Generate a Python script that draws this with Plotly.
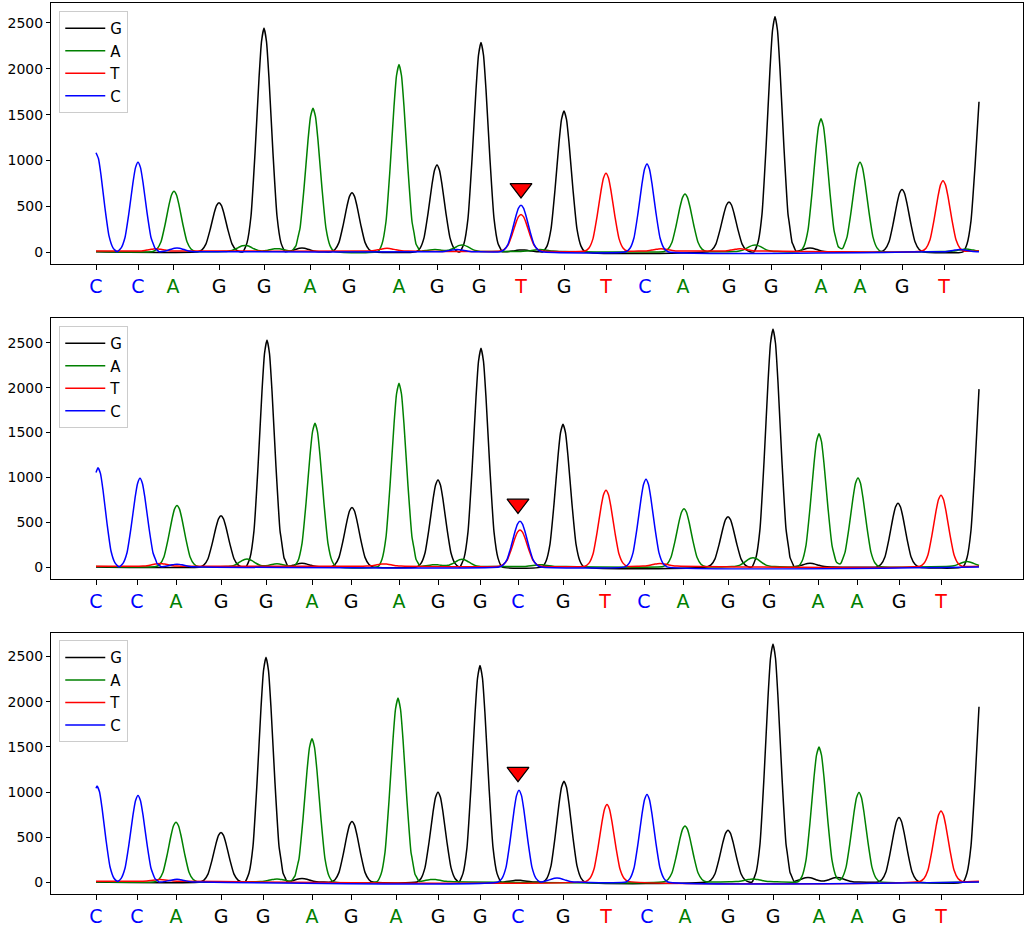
import numpy as np
import plotly.graph_objects as go
from plotly.subplots import make_subplots

# trace runs from scan 0 to scan 883 in every panel
last_scan = 883

# ---------- panel 1 ----------
g_pos_1 = [123, 168, 206, 256, 341, 385, 426, 468, 633, 679, 714, 806, 888]
g_hgt_1 = [536, 2440, 40, 643, 947, 2282, 20, 1537, 543, 2568, 40, 679, 2112]
a_pos_1 = [78, 149, 181, 217, 303, 339, 366, 444, 589, 659, 725, 764, 870]
a_hgt_1 = [655, 65, 30, 1563, 2039, 20, 70, 20, 625, 70, 1448, 972, 25]
t_pos_1 = [60, 291, 425, 510, 565, 644, 847]
t_hgt_1 = [25, 30, 400, 848, 25, 25, 768]
c_pos_1 = [0, 42, 81, 361, 425, 551, 864]
c_hgt_1 = [1080, 977, 40, 25, 508, 958, 25]
base_pos_1 = [0, 42, 77, 123, 168, 214, 253, 303, 341, 383, 425, 468, 510,
              549, 587, 633, 675, 725, 764, 806, 848]
calls_1 = list("CCAGGAGAGGTGTCAGGAAGT")

# ---------- panel 2 ----------
g_pos_2 = [125, 171, 206, 256, 342, 385, 467, 632, 677, 714, 802, 888]
g_hgt_2 = [570, 2527, 40, 662, 967, 2435, 1589, 559, 2649, 40, 710, 2554]
a_pos_2 = [81, 151, 181, 219, 303, 339, 366, 444, 588, 657, 723, 762, 871]
a_hgt_2 = [680, 84, 30, 1596, 2042, 20, 80, 20, 643, 99, 1479, 986, 55]
t_pos_2 = [64, 288, 424, 510, 564, 845]
t_hgt_2 = [30, 25, 404, 846, 30, 791]
c_pos_2 = [2, 44, 81, 424, 550]
c_hgt_2 = [1105, 986, 30, 508, 975]
base_pos_2 = [0, 41, 80, 125, 170, 216, 255, 303, 342, 384, 422, 467, 509,
              548, 587, 632, 673, 722, 761, 803, 845]
calls_2 = list("CCAGGAGAGGCGTCAGGAAGT")

# ---------- panel 3 ----------
g_pos_3 = [125, 170, 206, 256, 342, 384, 422, 468, 632, 677, 712, 741, 803, 888]
g_hgt_3 = [549, 2488, 40, 670, 995, 2397, 20, 1116, 574, 2634, 50, 50, 713, 2502]
a_pos_3 = [80, 181, 216, 302, 337, 589, 657, 723, 763]
a_hgt_3 = [659, 30, 1581, 2031, 25, 615, 30, 1489, 988]
t_pos_3 = [64, 511, 845]
t_hgt_3 = [20, 849, 779]
c_pos_3 = [1, 42, 81, 423, 461, 551]
c_hgt_3 = [1062, 958, 30, 1017, 45, 969]
base_pos_3 = [0, 41, 80, 125, 167, 216, 255, 300, 342, 384, 422, 467, 510,
              551, 589, 632, 677, 723, 761, 803, 845]
calls_3 = list("CCAGGAGAGGCGTCAGGAAGT")

# mutation marker (scan, signal) per panel
mark_x = [425, 422, 422]
mark_y = [695, 705, 1220]

# y ranges of the three panels
y_ranges = [[-129, 2718], [-132, 2774], [-128, 2763]]

# peak shape used to draw every called peak
profile_dx = [-21, -17, -13, -9, -5, -2.5, 0, 2.5, 5, 9, 13, 17, 21]
profile_fr = [0, 0.04, 0.16, 0.44, 0.775, 0.94, 1, 0.94, 0.775, 0.44, 0.16, 0.04, 0]

colors = {"G": "black", "A": "green", "T": "red", "C": "blue"}
baseline = {"G": 4, "A": 8, "T": 12, "C": 4}


def trace_curve(pos, hgt, base):
    xs = {0.0, float(last_scan)}
    for c in pos:
        for d in profile_dx:
            if 0 <= c + d <= last_scan:
                xs.add(float(c + d))
    xs = np.array(sorted(xs))
    ys = np.full(len(xs), float(base))
    for c, h in zip(pos, hgt):
        ys += h * np.interp(xs - c, profile_dx, profile_fr)
    return xs, ys


panels = [
    {"G": (g_pos_1, g_hgt_1), "A": (a_pos_1, a_hgt_1), "T": (t_pos_1, t_hgt_1), "C": (c_pos_1, c_hgt_1)},
    {"G": (g_pos_2, g_hgt_2), "A": (a_pos_2, a_hgt_2), "T": (t_pos_2, t_hgt_2), "C": (c_pos_2, c_hgt_2)},
    {"G": (g_pos_3, g_hgt_3), "A": (a_pos_3, a_hgt_3), "T": (t_pos_3, t_hgt_3), "C": (c_pos_3, c_hgt_3)},
]
ticks = [(base_pos_1, calls_1), (base_pos_2, calls_2), (base_pos_3, calls_3)]

fig = make_subplots(rows=3, cols=1)

legend_names = ["legend", "legend2", "legend3"]
for i, chans in enumerate(panels):
    row = i + 1
    for base in ["G", "A", "T", "C"]:
        xs, ys = trace_curve(chans[base][0], chans[base][1], baseline[base])
        fig.add_trace(go.Scatter(
            x=xs, y=ys, mode="lines", name=base,
            line=dict(color=colors[base], width=1.5, shape="spline", smoothing=0.5),
            legend=legend_names[i], hoverinfo="skip"), row=row, col=1)
    fig.add_trace(go.Scatter(
        x=[mark_x[i]], y=[mark_y[i]], mode="markers", showlegend=False,
        marker=dict(symbol="triangle-down", size=19, color="red",
                    line=dict(color="black", width=1.2))), row=row, col=1)

font = "DejaVu Sans"
domains = [[0.7071, 1.0], [0.3534, 0.6463], [0.0, 0.2933]]
legend_y = [0.991, 0.6374, 0.2848]

for i in range(3):
    row = i + 1
    pos, calls = ticks[i]
    labels = ['<span style="color:%s">%s</span>' % (colors[b], b) for b in calls]
    fig.update_xaxes(range=[-45, 927], tickmode="array", tickvals=pos, ticktext=labels,
                     tickfont=dict(family=font, size=19, color="black"),
                     ticks="outside", ticklen=5, tickcolor="black",
                     showline=True, mirror=True, linecolor="black", linewidth=1,
                     showgrid=False, zeroline=False, domain=[0, 1], row=row, col=1)
    fig.update_yaxes(range=y_ranges[i], tickvals=[0, 500, 1000, 1500, 2000, 2500],
                     tickfont=dict(family=font, size=14, color="black"),
                     ticks="outside", ticklen=4, tickcolor="black",
                     showline=True, mirror=True, linecolor="black", linewidth=1,
                     showgrid=False, zeroline=False, domain=domains[i], row=row, col=1)

legend_style = dict(x=0.0085, xanchor="left", yanchor="top",
                    bgcolor="rgba(255,255,255,0.8)", bordercolor="#cccccc", borderwidth=1,
                    font=dict(family=font, size=15, color="black"), itemwidth=40)
fig.update_layout(
    width=1026, height=929,
    margin=dict(l=51, r=3, t=2, b=28),
    plot_bgcolor="white", paper_bgcolor="white",
    font=dict(family=font, size=14, color="black"),
    legend=dict(legend_style, y=legend_y[0]),
    legend2=dict(legend_style, y=legend_y[1]),
    legend3=dict(legend_style, y=legend_y[2]),
)

fig.write_html("out.html", config={"displayModeBar": False},
               post_script="document.body.style.margin='0';")
